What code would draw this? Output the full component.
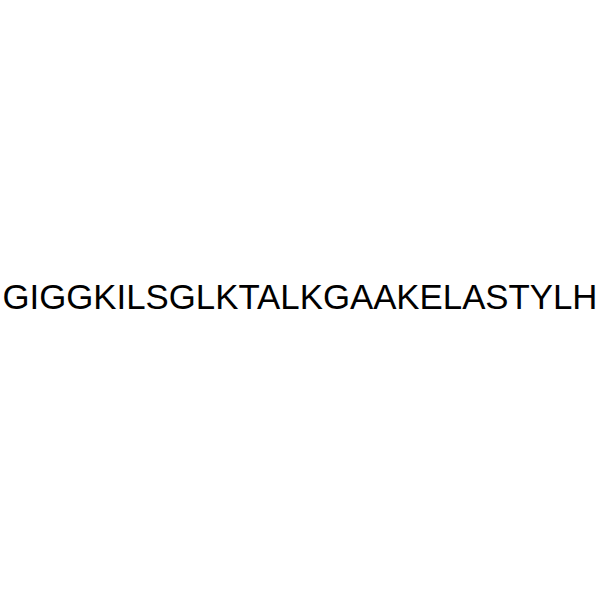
import React from 'react';

// Peptide sequence shown in the picture
const sequence = ['GIGGKILSGLKTALKGAAKELASTYLH'];

const App: React.FC = () => {
  const width = 600;
  const height = 600;
  return (
    <svg
      width={width}
      height={height}
      style={{ position: 'absolute', left: 0, top: 0, background: '#fff' }}
    >
      {sequence.map((s, i) => (
        <text
          key={i}
          x={width / 2}
          y={309}
          textAnchor="middle"
          fontFamily="'Liberation Sans', Arial, sans-serif"
          fontSize={34.8}
          fill="#000"
        >
          {s}
        </text>
      ))}
    </svg>
  );
};

export default App;
